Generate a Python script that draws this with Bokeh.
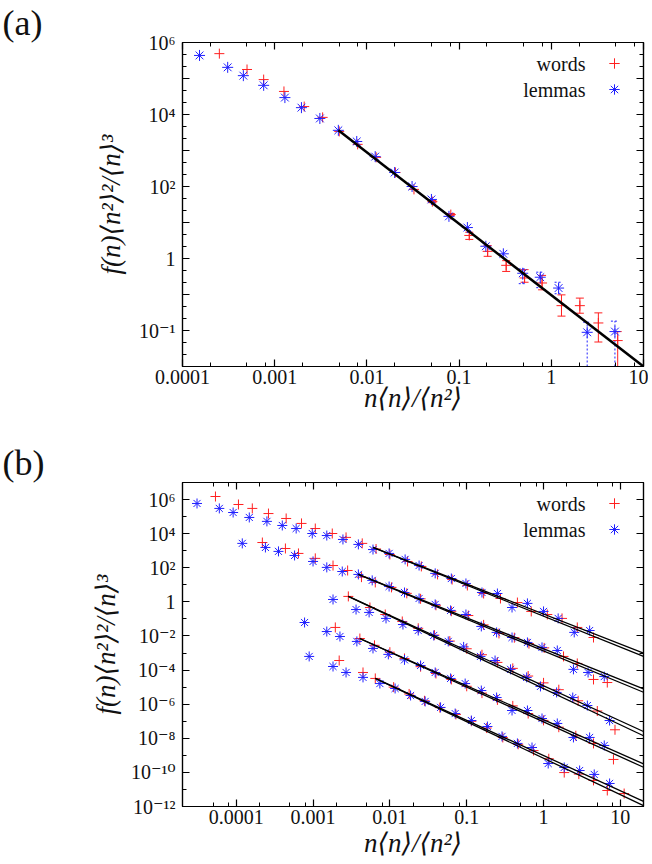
from bokeh.plotting import figure
from bokeh.models import (Range1d, LogAxis, FixedTicker, CustomJSTickFormatter, Label,
                          Legend, LegendItem, Title)
from bokeh.core.properties import value
from bokeh.layouts import column
from bokeh.embed import file_html
from bokeh.resources import INLINE

# ---------------- panel (a) data ----------------
a_words_x = [2.51e-4, 5.01e-4, 7.59e-4, 1.26e-3, 2.09e-3, 3.31e-3, 5.01e-3, 7.94e-3, 1.26e-2,
             2.04e-2, 3.24e-2, 5.13e-2, 8.13e-2, 0.129, 0.204, 0.324, 0.513, 0.794, 1.29,
             2.04, 3.24, 5.25]
a_words_y = [4.90e5, 1.78e5, 9.33e4, 4.37e4, 1.66e4, 8.32e3, 3.39e3, 1.48e3, 646, 245, 83.2,
             38.0, 16.6, 4.37, 1.58, 0.646, 0.288, 0.209, 0.049, 0.049, 0.0162, 0.00525]
a_words_err_x = [5.13e-2, 8.13e-2, 0.129, 0.204, 0.324, 0.513, 0.794, 1.29, 2.04, 3.24, 5.25]
a_words_err_lo = [35.5, 15.5, 3.39, 1.15, 0.437, 0.219, 0.135, 0.0251, 0.0302, 0.00479, 1e-5]
a_words_err_hi = [40.7, 17.8, 5.37, 2.29, 0.871, 0.490, 0.339, 0.0977, 0.0794, 0.0309, 0.00933]

a_lemmas_x = [1.53e-4, 3.09e-4, 4.57e-4, 7.59e-4, 1.29e-3, 1.95e-3, 3.09e-3, 4.90e-3, 7.76e-3,
              1.23e-2, 2.0e-2, 3.09e-2, 5.01e-2, 7.76e-2, 0.123, 0.195, 0.302, 0.490, 0.759,
              1.20, 2.45, 4.90]
a_lemmas_y = [4.37e5, 2.04e5, 1.20e5, 6.46e4, 2.95e4, 1.55e4, 7.76e3, 3.63e3, 1.78e3, 676, 245,
              100, 43.7, 14.8, 7.24, 2.19, 1.35, 0.389, 0.302, 0.151, 0.00891, 0.00933]
a_lemmas_err_x = [0.490, 0.759, 1.20, 2.45, 4.90]
a_lemmas_err_lo = [0.200, 0.155, 0.105, 1e-5, 1e-5]
a_lemmas_err_hi = [0.513, 0.417, 0.219, 0.0170, 0.0182]

a_fit_x = [4.9e-3, 10.0]
a_fit_y = [3630.0, 1.0e-3]

a_xtick_vals = [1e-4, 1e-3, 1e-2, 0.1, 1.0, 10.0]
a_xtick_labels = ["0.0001", "0.001", "0.01", "0.1", "1", "10"]
a_ytick_vals = [1e6, 1e4, 1e2, 1.0, 1e-2]
a_ytick_labels = ["10⁶", "10⁴", "10²", "1", "10⁻¹"]

# ---------------- panel (b) data ----------------
b1_lemmas_x = [3.09e-5, 6.03e-5, 9.12e-5, 1.48e-4, 2.51e-4, 3.98e-4, 6.03e-4, 9.77e-4, 1.51e-3,
               2.45e-3, 3.89e-3, 6.03e-3, 9.77e-3, 1.58e-2, 2.40e-2, 3.89e-2, 6.31e-2, 9.77e-2,
               0.158, 0.251, 0.389, 0.617, 1.0, 1.55, 2.51, 3.98]
b1_lemmas_y = [5.89e5, 3.02e5, 1.74e5, 8.91e4, 5.25e4, 3.02e4, 2.0e4, 1.02e4, 7.76e3, 4.57e3,
               2.34e3, 1.17e3, 692, 309, 135, 46.8, 23.4, 12.0, 3.55, 3.09, 0.468, 0.813, 0.275,
               0.107, 0.0162, 0.0209]
b1_words_x = [5.37e-5, 1.07e-4, 1.62e-4, 2.63e-4, 4.47e-4, 7.08e-4, 1.07e-3, 1.78e-3, 2.69e-3,
              4.37e-3, 6.61e-3, 1.0e-2, 1.70e-2, 2.57e-2, 4.17e-2, 6.46e-2, 0.102, 0.166, 0.275,
              0.457, 0.692, 1.12, 1.74, 2.75, 4.47]
b1_words_y = [1.51e6, 5.13e5, 3.02e5, 1.51e5, 7.76e4, 3.98e4, 2.0e4, 1.02e4, 6.03e3, 2.69e3,
              1.26e3, 603, 234, 120, 40.7, 20.4, 9.12, 3.09, 1.58, 0.912, 0.275, 0.182, 0.107,
              0.0316, 0.00813]

b2_lemmas_x = [1.20e-4, 2.40e-4, 3.55e-4, 5.75e-4, 1.0e-3, 1.51e-3, 2.40e-3, 3.89e-3, 5.89e-3,
               9.77e-3, 1.55e-2, 2.40e-2, 3.89e-2, 6.17e-2, 9.77e-2, 0.155, 0.245, 0.389, 0.617,
               0.955, 1.51, 2.45, 3.80, 6.17]
b2_lemmas_y = [2.69e3, 1.55e3, 912, 525, 234, 105, 60.3, 40.7, 18.2, 7.94, 3.55, 1.58, 0.708,
               0.316, 0.182, 0.0363, 0.0162, 8.13e-3, 4.17e-3, 2.14e-3, 1.41e-3, 1.10e-4,
               7.24e-5, 4.17e-5]
b2_words_x = [2.19e-4, 4.37e-4, 6.46e-4, 1.07e-3, 1.82e-3, 2.82e-3, 4.27e-3, 6.46e-3, 1.05e-2,
              1.66e-2, 2.51e-2, 3.98e-2, 6.31e-2, 0.105, 0.166, 0.263, 0.417, 0.646, 1.02, 1.82,
              2.75, 4.47, 6.76]
b2_words_y = [3.02e3, 1.35e3, 692, 355, 135, 69.2, 28.2, 13.8, 7.08, 3.16, 1.51, 0.631, 0.282,
              0.158, 0.0447, 0.0141, 7.94e-3, 3.55e-3, 2.0e-3, 6.31e-4, 2.45e-4, 2.82e-5, 1.86e-5]

b3_lemmas_x = [1.82e-3, 3.63e-3, 5.37e-3, 8.91e-3, 1.48e-2, 2.34e-2, 3.72e-2, 5.75e-2, 9.12e-2,
               0.151, 0.234, 0.372, 0.603, 0.912, 1.48, 2.40, 3.72, 7.24]
b3_lemmas_y = [1.38, 0.355, 0.240, 0.107, 0.0468, 0.0209, 0.0107, 4.79e-3, 2.29e-3, 6.31e-4,
               3.63e-4, 1.10e-4, 3.72e-5, 1.10e-5, 4.90e-6, 2.45e-6, 8.32e-7, 1.10e-7]
b3_words_x = [2.88e-3, 5.50e-3, 8.71e-3, 1.45e-2, 2.34e-2, 3.80e-2, 6.03e-2, 0.100, 0.158, 0.251,
              0.398, 0.631, 1.0, 1.58, 2.82, 5.01, 8.51]
b3_words_y = [2.09, 0.468, 0.182, 0.0708, 0.0282, 0.0112, 5.01e-3, 1.78e-3, 7.94e-4, 2.82e-4,
              1.26e-4, 4.47e-5, 1.78e-5, 7.08e-6, 1.58e-6, 3.98e-7, 3.16e-8]

b4_lemmas_x = [7.76e-4, 1.51e-3, 2.24e-3, 3.72e-3, 6.03e-3, 9.55e-3, 1.55e-2, 2.51e-2, 3.89e-2,
               6.17e-2, 9.55e-2, 0.155, 0.245, 0.389, 0.617, 0.955, 1.51, 2.45, 3.98, 6.17]
b4_lemmas_y = [0.0617, 0.0182, 9.33e-3, 4.79e-3, 1.86e-3, 8.32e-4, 3.98e-4, 1.86e-4, 7.24e-5,
               3.24e-5, 1.62e-5, 6.31e-6, 2.45e-6, 4.27e-7, 4.27e-7, 1.45e-7, 7.41e-8, 1.12e-8,
               1.12e-8, 3.80e-9]
b4_words_x = [1.95e-3, 4.07e-3, 6.31e-3, 1.0e-2, 1.55e-2, 2.51e-2, 3.98e-2, 6.31e-2, 0.100,
              0.158, 0.251, 0.398, 0.631, 1.0, 1.58, 2.63, 4.47, 8.13]
b4_words_y = [0.0316, 7.08e-3, 2.82e-3, 1.12e-3, 4.79e-4, 1.58e-4, 6.31e-5, 2.82e-5, 1.12e-5,
              4.47e-6, 1.78e-6, 7.94e-7, 2.82e-7, 1.12e-7, 4.47e-8, 1.41e-8, 5.01e-9, 5.75e-10]

b5_lemmas_x = [8.91e-4, 1.82e-3, 2.69e-3, 4.47e-3, 7.41e-3, 1.17e-2, 1.86e-2, 2.88e-2, 4.57e-2,
               7.08e-2, 0.115, 0.186, 0.288, 0.457, 0.708, 1.15, 1.86, 2.95, 4.57, 7.24]
b5_lemmas_y = [6.31e-4, 1.62e-4, 7.24e-5, 3.72e-5, 1.62e-5, 8.32e-6, 3.24e-6, 1.45e-6, 6.46e-7,
               2.82e-7, 1.10e-7, 4.90e-8, 1.29e-8, 5.01e-9, 2.88e-9, 3.31e-10, 1.95e-10,
               1.29e-10, 7.59e-11, 2.24e-11]
b5_words_x = [2.19e-3, 4.47e-3, 6.46e-3, 1.12e-2, 1.78e-2, 2.82e-2, 4.47e-2, 7.24e-2, 0.115,
              0.182, 0.295, 0.468, 0.741, 1.17, 1.86, 2.88, 4.47, 6.76, 11.2]
b5_words_y = [3.63e-4, 7.24e-5, 3.24e-5, 1.0e-5, 3.98e-6, 1.58e-6, 6.31e-7, 2.51e-7, 1.0e-7,
              3.98e-8, 1.12e-8, 4.47e-9, 1.91e-9, 6.31e-10, 9.77e-11, 7.94e-11, 3.39e-11,
              8.71e-12, 5.75e-12]

b_fit_x0 = [6.03e-3, 3.89e-3, 2.88e-3, 4.07e-3, 6.46e-3]
b_fit_y0 = [1.55e3, 40.7, 2.09, 7.08e-3, 3.24e-5]
b_fit_x1 = [20.0, 20.0, 20.0, 20.0, 20.0]
b_fit_words_y1 = [1.0e-3, 7.94e-6, 2.51e-8, 3.16e-10, 2.0e-12]
b_fit_lemmas_y1 = [6.31e-4, 5.01e-6, 1.41e-8, 2.0e-10, 1.12e-12]

b_xtick_vals = [1e-4, 1e-3, 1e-2, 0.1, 1.0, 10.0]
b_xtick_labels = ["0.0001", "0.001", "0.01", "0.1", "1", "10"]
b_ytick_vals = [1e6, 1e4, 1e2, 1.0, 1e-2, 1e-4, 1e-6, 1e-8, 1e-10, 1e-12]
b_ytick_labels = ["10⁶", "10⁴", "10²", "1", "10⁻²", "10⁻⁴", "10⁻⁶", "10⁻⁸", "10⁻¹⁰", "10⁻¹²"]

legend_labels = ["words", "lemmas"]

RED = "#ff2020"
BLUE = "#2020ff"
FONT = "Liberation Serif, DejaVu Serif"
XLABEL = "n⟨n⟩/⟨n²⟩"
YLABEL = "f(n)⟨n²⟩²/⟨n⟩³"


def label_formatter(vals, labels):
    return CustomJSTickFormatter(args=dict(vals=list(vals), labels=list(labels)), code="""
        const lt = Math.log10(tick);
        for (let i = 0; i < vals.length; i++) {
            if (Math.abs(lt - Math.log10(vals[i])) < 1e-6) { return labels[i]; }
        }
        return "";
    """)


def style_axis(ax):
    ax.major_tick_in = 7
    ax.major_tick_out = 0
    ax.minor_tick_in = 4
    ax.minor_tick_out = 0
    ax.axis_line_color = "black"
    ax.axis_line_width = 1.2
    ax.major_tick_line_color = "black"
    ax.minor_tick_line_color = "black"
    ax.major_tick_line_width = 1.2
    ax.minor_tick_line_width = 1.0
    ax.major_label_text_font = FONT
    ax.major_label_text_font_size = "20px"
    ax.major_label_text_color = "#111111"
    ax.axis_label_text_font = FONT
    ax.axis_label_text_font_style = "italic"
    ax.axis_label_text_font_size = "27px"
    ax.axis_label_text_color = "#111111"


def make_panel(height, top, bottom, xr, yr, xt, yt, xfmt, yfmt, ylab_standoff, xlab_standoff, letter):
    p = figure(width=648, height=height, x_axis_type="log", y_axis_type="log",
               x_range=Range1d(*xr), y_range=Range1d(*yr), output_backend="svg",
               toolbar_location=None, min_border_left=182, min_border_right=5,
               min_border_top=top, min_border_bottom=bottom)
    p.title = Title(text=letter, align="left", offset=-180, standoff=0,
                    text_font=FONT, text_font_size="36px", text_font_style="normal",
                    text_color="#111111")
    p.grid.visible = False
    p.outline_line_color = "black"
    p.outline_line_width = 1.2
    p.background_fill_color = "white"
    p.border_fill_color = "white"
    xa = p.below[0]
    ya = p.left[0]
    top_ax = LogAxis(ticker=xt, formatter=CustomJSTickFormatter(code='return "";'))
    right_ax = LogAxis(ticker=yt, formatter=CustomJSTickFormatter(code='return "";'))
    p.add_layout(top_ax, "above")
    p.add_layout(right_ax, "right")
    for ax in (xa, ya, top_ax, right_ax):
        style_axis(ax)
    for ax in (top_ax, right_ax):
        ax.major_label_text_font_size = "0px"
        ax.major_label_standoff = 0
    xa.ticker = xt
    ya.ticker = yt
    xa.formatter = xfmt
    ya.formatter = yfmt
    xa.axis_label = XLABEL
    ya.axis_label = YLABEL
    xa.major_label_standoff = 3
    ya.major_label_standoff = 7
    xa.axis_label_standoff = xlab_standoff
    ya.axis_label_standoff = ylab_standoff
    for i, lab in enumerate(legend_labels):
        p.add_layout(Label(x=403, y=303 - 26 * i, x_units="screen", y_units="screen", text=lab,
                           text_font=FONT, text_font_size="20px", text_baseline="middle",
                           text_align="right", text_color="#111111"))
    return p


def add_legend(p, r_words, r_lemmas):
    leg = Legend(items=[LegendItem(label=value(" "), renderers=[r_words]),
                        LegendItem(label=value(" "), renderers=[r_lemmas])],
                 location=(419, 264), glyph_width=26, glyph_height=26, label_width=0,
                 label_height=26, label_standoff=0, padding=0, spacing=0, margin=0,
                 border_line_color=None, background_fill_alpha=0,
                 label_text_font_size="1px")
    p.add_layout(leg)


# ---------------- panel (a) ----------------
a_xt = FixedTicker(ticks=[10.0 ** k for k in range(-4, 2)],
                   minor_ticks=[m * 10.0 ** k for k in range(-4, 1) for m in (2, 5, 8)])
a_yt = FixedTicker(ticks=[10.0 ** k for k in range(-3, 7)],
                   minor_ticks=[10.0 ** (k + f) for k in range(-3, 6) for f in (1 / 3, 2 / 3)])
pa = make_panel(430, 42, 64, (1e-4, 10.0), (1e-3, 1e6), a_xt, a_yt,
                label_formatter(a_xtick_vals, a_xtick_labels),
                label_formatter(a_ytick_vals, a_ytick_labels), 10, -4, "(a)")

pa.segment(x0=a_words_err_x, y0=a_words_err_lo, x1=a_words_err_x, y1=a_words_err_hi,
           line_color=RED, line_width=1)
pa.scatter(a_words_err_x + a_words_err_x, a_words_err_lo + a_words_err_hi, marker="dash",
           size=8, line_color=RED, line_width=1)
pa.segment(x0=a_lemmas_err_x, y0=a_lemmas_err_lo, x1=a_lemmas_err_x, y1=a_lemmas_err_hi,
           line_color=BLUE, line_width=1, line_dash="2 2")
pa.scatter(a_lemmas_err_x + a_lemmas_err_x, a_lemmas_err_lo + a_lemmas_err_hi, marker="dash",
           size=8, line_color=BLUE, line_width=1, line_dash="2 2")
ra_w = pa.scatter(a_words_x, a_words_y, marker="cross", size=10, line_color=RED, line_width=1)
ra_l = pa.scatter(a_lemmas_x, a_lemmas_y, marker="asterisk", size=11, line_color=BLUE,
                  line_width=1)
pa.line(a_fit_x, a_fit_y, line_color="black", line_width=2.5)
add_legend(pa, ra_w, ra_l)

# ---------------- panel (b) ----------------
b_xt = FixedTicker(ticks=[10.0 ** k for k in range(-4, 2)],
                   minor_ticks=[m * 10.0 ** k for k in range(-5, 2) for m in (2, 5, 8)])
b_yt = FixedTicker(ticks=[10.0 ** k for k in range(-12, 7, 2)],
                   minor_ticks=[10.0 ** k for k in range(-11, 8, 2)])
pb = make_panel(434, 52, 58, (2e-5, 20.0), (1e-12, 1e7), b_xt, b_yt,
                label_formatter(b_xtick_vals, b_xtick_labels),
                label_formatter(b_ytick_vals, b_ytick_labels), 7, 1, "(b)")

b_words = [(b1_words_x, b1_words_y), (b2_words_x, b2_words_y), (b3_words_x, b3_words_y),
           (b4_words_x, b4_words_y), (b5_words_x, b5_words_y)]
b_lemmas = [(b1_lemmas_x, b1_lemmas_y), (b2_lemmas_x, b2_lemmas_y), (b3_lemmas_x, b3_lemmas_y),
            (b4_lemmas_x, b4_lemmas_y), (b5_lemmas_x, b5_lemmas_y)]
rb_w = rb_l = None
for (wx, wy), (lx, ly) in zip(b_words, b_lemmas):
    rb_w = pb.scatter(wx, wy, marker="cross", size=10, line_color=RED, line_width=1)
    rb_l = pb.scatter(lx, ly, marker="asterisk", size=10, line_color=BLUE, line_width=1)
pb.segment(x0=b_fit_x0, y0=b_fit_y0, x1=b_fit_x1, y1=b_fit_words_y1, line_color="black",
           line_width=1.3)
pb.segment(x0=b_fit_x0, y0=b_fit_y0, x1=b_fit_x1, y1=b_fit_lemmas_y1, line_color="black",
           line_width=1.3)
add_legend(pb, rb_w, rb_l)

layout = column(pa, pb, spacing=0)
open("out.html", "w").write(file_html(layout, INLINE))
